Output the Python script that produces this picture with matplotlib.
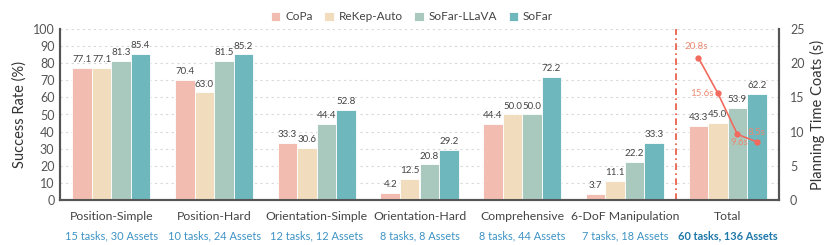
import matplotlib
matplotlib.use("Agg")
import matplotlib.pyplot as plt
import numpy as np

plt.rcParams['font.family'] = ['Lato', 'DejaVu Sans']

categories = ["Position-Simple", "Position-Hard", "Orientation-Simple", "Orientation-Hard",
              "Comprehensive", "6-DoF Manipulation", "Total"]
subtitles = ["15 tasks, 30 Assets", "10 tasks, 24 Assets", "12 tasks, 12 Assets", "8 tasks, 8 Assets",
             "8 tasks, 44 Assets", "7 tasks, 18 Assets", "60 tasks, 136 Assets"]
methods = ["CoPa", "ReKep-Auto", "SoFar-LLaVA", "SoFar"]
copa = [77.1, 70.4, 33.3, 4.2, 44.4, 3.7, 43.3]
rekep = [77.1, 63.0, 30.6, 12.5, 50.0, 11.1, 45.0]
sofar_llava = [81.3, 81.5, 44.4, 20.8, 50.0, 22.2, 53.9]
sofar = [85.4, 85.2, 52.8, 29.2, 72.2, 33.3, 62.2]
planning_time = [20.8, 15.6, 9.6, 8.5]

series = [copa, rekep, sofar_llava, sofar]
colors = ["#F2BDB0", "#F1DDBD", "#A9C9BF", "#6DB7BD"]

fig = plt.figure(figsize=(8.3, 2.45), dpi=100)
ax = fig.add_axes([60/830, 45/245, 719/830, 171/245])
ax2 = ax.twinx()

x = np.arange(len(categories))
w = 0.19
offsets = np.array([-1.5, -0.5, 0.5, 1.5]) * w
for s, c, off, name in zip(series, colors, offsets, methods):
    ax.bar(x + off, s, w, color=c, edgecolor="white", linewidth=0.6, label=name, zorder=3)
    for xi, v in zip(x + off, s):
        ax.text(xi, v + 2.2, f"{v:.1f}", ha="center", va="bottom", fontsize=7, color="#444444", zorder=4)

ax.set_xlim(-0.5, 6.5)
ax.set_ylim(0, 100)
ax.set_yticks(np.arange(0, 101, 10))
ax.yaxis.grid(True, linestyle=(0, (2, 3)), color="#D8D8D8", linewidth=0.8, zorder=0)
ax.set_axisbelow(True)
ax.set_ylabel("Success Rate (%)", fontsize=10.5, color="#333333")
ax.set_xticks(x)
ax.set_xticklabels([""] * len(categories))
ax.tick_params(axis="x", length=0)
ax.tick_params(axis="y", length=0, labelsize=9, colors="#555555", pad=4)
for xi, cat, sub in zip(x, categories, subtitles):
    ax.text(xi, -6.5, cat, ha="center", va="top", fontsize=8.8, color="#444444", clip_on=False)
    if cat == "Total":
        ax.text(xi, -17.5, sub, ha="center", va="top", fontsize=7.9, color="#1F78A8",
                fontweight="bold", clip_on=False)
    else:
        ax.text(xi, -17.5, sub, ha="center", va="top", fontsize=7.9, color="#3E93C4", clip_on=False)

ax.axvline(5.5, color="#E8553C", linestyle=(0, (4, 2, 1, 2)), linewidth=1.2, zorder=2)

for a in (ax, ax2):
    a.spines["top"].set_visible(False)
    for sp in ["left", "bottom", "right"]:
        a.spines[sp].set_color("#555555")
        a.spines[sp].set_linewidth(1.5)

ax2.set_ylim(0, 25)
ax2.set_yticks(np.arange(0, 26, 5))
ax2.tick_params(axis="y", length=0, labelsize=9, colors="#555555", pad=8)
ax2.set_ylabel("Planning Time Coats (s)", fontsize=10.5, color="#333333")

tx = 6 + offsets
ax2.plot(tx, planning_time, color="#F26A5E", marker="o", markersize=3.5, linewidth=1.2, zorder=5)
label_off = [(-0.02, 1.0, "center", "bottom"), (-0.04, 0.0, "right", "center"),
             (0.02, -0.6, "center", "top"), (0.0, 0.7, "center", "bottom")]
for xi, v, (dx, dy, ha, va) in zip(tx, planning_time, label_off):
    ax2.text(xi + dx, v + dy, f"{v}s", ha=ha, va=va, fontsize=7, color="#EB8A72", zorder=6)

handles, labels = ax.get_legend_handles_labels()
fig.legend(handles, labels, loc="center", bbox_to_anchor=(412/830, 1 - 17/245), ncol=4,
           frameon=False, fontsize=8.5, handlelength=0.8, handleheight=0.8, handletextpad=0.4,
           columnspacing=1.0, labelcolor="#444444")

fig.savefig("out.png", dpi=100)
